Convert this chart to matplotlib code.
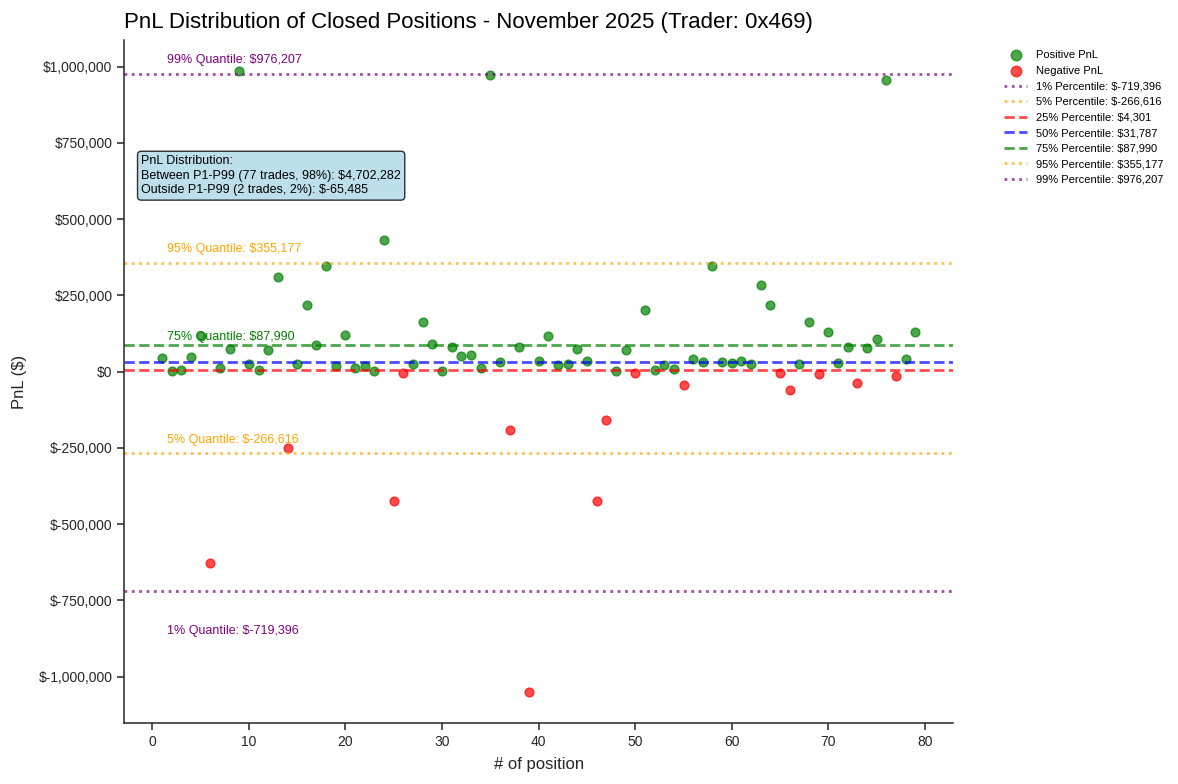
import matplotlib
matplotlib.use('Agg')
import matplotlib.pyplot as plt
from matplotlib.ticker import FuncFormatter, MultipleLocator
import numpy as np

plt.rcParams['font.family'] = ['Liberation Sans', 'DejaVu Sans']

# Datos: PnL por posicion cerrada
posiciones = np.arange(1, 80)
pnl = [
    44000, 2600, 5000, 48000, 118000, -626149, 11000, 74000, 984515, 25000,
    5000, 70000, 309000, -250000, 25000, 220000, 88000, 345000, 19000, 119000,
    13000, 18000, 2600, 430000, -423000, -4000, 25000, 162000, 90000, 2600,
    82000, 52000, 56000, 11000, 973864, 31000, -191000, 82000, -1050000, 35000,
    117000, 22000, 25000, 73000, 35000, -423000, -157000, 2600, 71000, -4000,
    202000, 5000, 22000, 8000, -44000, 41000, 31000, 348000, 32000, 29000,
    35000, 25000, 283000, 217000, -4000, -60000, 25000, 162000, -7000, 129000,
    29000, 81000, -37000, 77000, 106000, 955000, -15000, 42000, 129000,
]

# Percentiles
pct_niveles = [1, 5, 25, 50, 75, 95, 99]
pct_valores = [-719396, -266616, 4301, 31787, 87990, 355177, 976207]
pct_colores = ['purple', 'orange', 'red', 'blue', 'green', 'orange', 'purple']
pct_estilos = [':', ':', '--', '--', '--', ':', ':']

# Etiquetas de cuantiles (solo algunos niveles)
etiq_niveles = [99, 95, 75, 5, 1]
etiq_desplaz = [46000, 48000, 25000, 41000, -130000]

titulo = 'PnL Distribution of Closed Positions - November 2025 (Trader: 0x469)'
resumen = ('PnL Distribution:\n'
           'Between P1-P99 (77 trades, 98%): $4,702,282\n'
           'Outside P1-P99 (2 trades, 2%): $-65,485')

pnl = np.array(pnl)
pos_mask = pnl >= 0

fig = plt.figure(figsize=(11.78, 7.84), dpi=100)
ax = fig.add_axes([0.1055, 0.0778, 0.7035, 0.8708])

# Puntos
ax.scatter(posiciones[pos_mask], pnl[pos_mask], color='green', alpha=0.7, s=40,
           label='Positive PnL')
ax.scatter(posiciones[~pos_mask], pnl[~pos_mask], color='red', alpha=0.7, s=40,
           label='Negative PnL')

# Lineas de percentiles
for nivel, valor, color, estilo in zip(pct_niveles, pct_valores, pct_colores, pct_estilos):
    ax.axhline(valor, color=color, linestyle=estilo, alpha=0.7, linewidth=2,
               label=f'{nivel}% Percentile: ${valor:,.0f}')

# Textos de cuantiles
for nivel, desp in zip(etiq_niveles, etiq_desplaz):
    idx = pct_niveles.index(nivel)
    valor = pct_valores[idx]
    ax.text(1.5, valor + desp, f'{nivel}% Quantile: ${valor:,.0f}',
            color=pct_colores[idx], fontsize=9, ha='left', va='center')

# Caja de resumen
ax.text(0.0205, 0.832, resumen, transform=ax.transAxes, fontsize=9, va='top',
        ha='left', linespacing=1.3,
        bbox=dict(boxstyle='round,pad=0.3', facecolor='lightblue', alpha=0.8,
                  edgecolor='black'))

# Ejes
ax.set_title(titulo, loc='left', fontsize=16, pad=9)
ax.set_xlabel('# of position', fontsize=12, color='.15', labelpad=6)
ax.set_ylabel('PnL ($)', fontsize=12, color='.15', labelpad=8)
ax.yaxis.set_major_locator(MultipleLocator(250000))
ax.xaxis.set_major_locator(MultipleLocator(10))
ax.yaxis.set_major_formatter(FuncFormatter(lambda v, p: f'${v:,.0f}'))
ax.tick_params(labelsize=10, colors='.15', length=5, width=1.1)
for lado in ['top', 'right']:
    ax.spines[lado].set_visible(False)
for lado in ['left', 'bottom']:
    ax.spines[lado].set_color('.15')
    ax.spines[lado].set_linewidth(1.1)

ax.legend(bbox_to_anchor=(1.05, 1), loc='upper left', frameon=False, fontsize=8,
          markerscale=1.2)

plt.savefig('out.png', dpi=100)
